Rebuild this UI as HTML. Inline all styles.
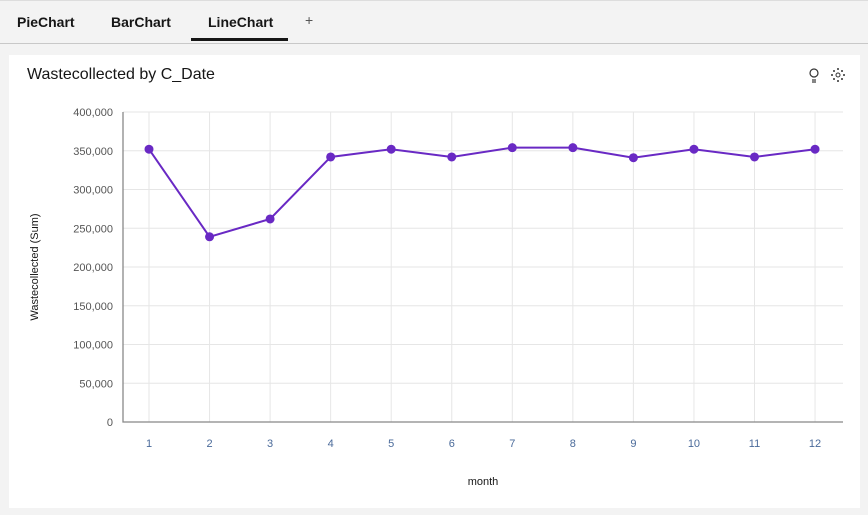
<!DOCTYPE html>
<html><head><meta charset="utf-8">
<style>
body{margin:0;width:868px;height:515px;background:#f3f3f3;font-family:"Liberation Sans",sans-serif;overflow:hidden;position:relative}
.tabs{position:absolute;left:0;top:0;width:868px;height:42px;border-top:1px solid #ddd;border-bottom:1px solid #c8c8c8;background:#f3f3f3}
.tab{position:absolute;top:13px;font-size:14px;font-weight:bold;color:#161616}
.card{position:absolute;left:9px;top:55px;width:851px;height:453px;background:#fff}
.title{position:absolute;left:18px;top:11px;font-size:16px;color:#161616}
</style></head><body>
<div class="tabs">
<div class="tab" style="left:17px">PieChart</div>
<div class="tab" style="left:111px">BarChart</div>
<div class="tab" style="left:208px">LineChart</div>
<div style="position:absolute;left:191px;top:37px;width:97px;height:3px;background:#161616"></div>
<div class="tab" style="left:305px;top:11px;font-weight:normal;color:#555">+</div>
</div>
<div class="card">
<div class="title">Wastecollected by C_Date</div>
</div>
<svg id="chart" width="868" height="515" style="position:absolute;left:0;top:0">
<g stroke="#333" fill="none" stroke-width="1.2">
<circle cx="814" cy="73" r="4"/><line x1="812" y1="80" x2="816" y2="80"/><line x1="812" y1="82" x2="816" y2="82"/></g>
<g fill="#333">
<circle cx="838" cy="75" r="2" fill="none" stroke="#333"/><circle cx="838" cy="69" r="1"/><circle cx="838" cy="81" r="1"/><circle cx="832" cy="75" r="1"/><circle cx="844" cy="75" r="1"/><circle cx="834" cy="71" r="1"/><circle cx="842" cy="71" r="1"/><circle cx="834" cy="79" r="1"/><circle cx="842" cy="79" r="1"/></g>
</svg>
<script>
const categories=["1","2","3","4","5","6","7","8","9","10","11","12"];
const values=[352000,239000,262000,342000,352000,342000,354000,354000,341000,352000,342000,352000];
const yTicks=[0,50000,100000,150000,200000,250000,300000,350000,400000];
const svg=document.getElementById('chart');
const NS='http://www.w3.org/2000/svg';
const x0=123,x1=843,y0=422,y1=112,yMax=400000;
const step=60.55,firstX=149;
const xs=i=>firstX+i*step;
const ys=v=>y0-(v/yMax)*(y0-y1);
function mk(t,a){const e=document.createElementNS(NS,t);for(const k in a)e.setAttribute(k,a[k]);svg.appendChild(e);return e;}
yTicks.forEach(t=>{
 const l=mk('line',{x1:x0,x2:x1,y1:ys(t),y2:ys(t),stroke:'#e6e6e6'});
 
 
 const tx=mk('text',{x:113,y:ys(t)+4,'text-anchor':'end','font-size':'11',fill:'#555','font-family':'Liberation Sans'});
 tx.textContent=t.toLocaleString('en-US');
 
 
});
categories.forEach((c,i)=>{
 const l=mk('line',{x1:xs(i),x2:xs(i),y1:y1,y2:y0,stroke:'#e6e6e6'});
 
 
 const tx=mk('text',{x:xs(i),y:447,'text-anchor':'middle','font-size':'11',fill:'#4a6a9a','font-family':'Liberation Sans'});
 tx.textContent=c;
 
 
});
const ax=mk('path',{d:`M${x0},${y1} V${y0} H${x1}`,stroke:'#888',fill:'none','stroke-width':1.3});


const ln=mk('polyline',{points:values.map((v,i)=>xs(i)+','+ys(v)).join(' '),fill:'none',stroke:'#6929c4','stroke-width':2});


values.forEach((v,i)=>{
 const c=mk('circle',{cx:xs(i),cy:ys(v),r:4.5,fill:'#6929c4'});
 
 
});
const xt=mk('text',{x:483,y:485,'text-anchor':'middle','font-size':'11',fill:'#161616','font-family':'Liberation Sans'});
xt.textContent='month';


const yt=mk('text',{x:0,y:0,transform:'translate(38,267) rotate(-90)','text-anchor':'middle','font-size':'11',fill:'#161616','font-family':'Liberation Sans'});
yt.textContent='Wastecollected (Sum)';


</script>
</body></html>
